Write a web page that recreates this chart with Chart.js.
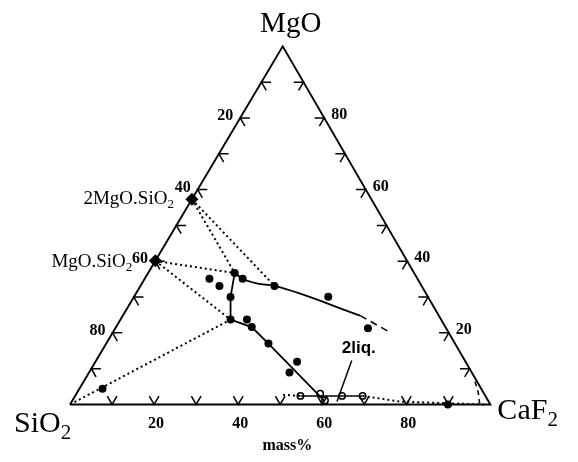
<!DOCTYPE html>
<html><head><meta charset="utf-8">
<script src="https://cdn.jsdelivr.net/npm/chart.js@4.4.0/dist/chart.umd.min.js"></script>
<style>html,body{margin:0;padding:0;background:#fff;}canvas{display:block;}</style>
</head><body>
<canvas id="c" width="578" height="462"></canvas>
<script>
// All compositions are [SiO2, MgO, CaF2] in mass%
const vertexNames = [['SiO','2'], ['MgO',''], ['CaF','2']];
const tickValues = [10, 20, 30, 40, 50, 60, 70, 80, 90];
const tickLabels = [20, 40, 60, 80];
const axisTitle = 'mass%';
const compoundNames = [['2MgO.SiO','2'], ['MgO.SiO','2']];
const compoundPoints = [[42.7, 57.3, 0], [59.9, 40.1, 0]];
const liquidPoints = [
  [49.5, 35.1, 15.4], [48.2, 33.1, 18.8], [42.7, 36.7, 20.6], [41.6, 35.1, 23.3],
  [35.0, 33.1, 31.9], [23.7, 30.1, 46.2], [18.6, 21.3, 60.1], [47.0, 30.0, 23.0],
  [50.1, 23.7, 26.2], [46.2, 23.7, 30.1], [46.1, 21.6, 32.3], [44.4, 17.0, 38.6],
  [40.1, 11.9, 48.0], [43.4, 8.9, 47.7], [90.1, 4.4, 5.5], [10.1, 0, 89.9]
];
const twoLiquidPoints = [[44.0, 2.4, 53.6], [39.0, 3.0, 58.0], [38.8, 1.1, 60.1], [34.1, 2.4, 63.5], [29.2, 2.4, 68.4]];
const upperBoundary = [[42.7, 36.7, 20.6], [41.6, 35.1, 23.3], [38.9, 33.8, 27.3], [35.0, 33.1, 31.9], [18.7, 24.8, 56.5]];
const upperBoundaryDashed = [[18.7, 24.8, 56.5], [13.8, 20.0, 66.2]];
const lowerBoundary = [[42.7, 36.7, 20.6], [47.0, 30.0, 23.0], [50.1, 23.7, 26.2], [46.1, 21.6, 32.3], [44.4, 17.0, 38.6], [39.0, 1.1, 59.9]];
const twoLiquidLine = [[44.0, 2.4, 53.6], [29.2, 2.4, 68.4]];
const twoLiquidLeader = [[26.9, 12.3, 60.8], [36.1, 0.8, 63.1]];
const twoLiquidLabel = '2liq.';
const tieLines = [
  [[42.7, 57.3, 0], [42.7, 36.7, 20.6]],
  [[42.7, 57.3, 0], [35.0, 33.1, 31.9]],
  [[59.9, 40.1, 0], [42.7, 36.7, 20.6]],
  [[59.9, 40.1, 0], [50.1, 23.7, 26.2]],
  [[100, 0, 0], [50.1, 23.7, 26.2]]
];
const baseDotted = [
  [[48.0, 2.7, 49.3], [44.0, 2.4, 53.6]],
  [[29.2, 2.4, 68.4], [21.0, 0.8, 78.2], [1.5, 0, 98.5]]
];
const caf2Dashed = [[0.5, 6.4, 93.1], [1.2, 3.4, 95.4], [2.4, 0.3, 97.3]];

const SKEW = 0.506;
function tp(p) { return { x: p[2] + SKEW * p[1], y: p[1] }; }
const line = (pts, opt) => Object.assign({ data: pts.map(tp), showLine: true, borderColor: '#000', borderWidth: 1.5, pointRadius: 0, fill: false, tension: 0 }, opt || {});

const datasets = [];
// triangle frame
datasets.push(line([[100, 0, 0], [0, 0, 100], [0, 100, 0], [100, 0, 0]], { borderWidth: 1.9 }));
// chevron ticks
const A = 2.3;
tickValues.forEach(t => {
  datasets.push(line([[t - A, 100 - t, A], [t, 100 - t, 0], [t, 100 - t - A, A]], { borderWidth: 1.5 }));   // SiO2 edge (left)
  datasets.push(line([[A, t, 100 - t - A], [0, t, 100 - t], [A, t - A, 100 - t]], { borderWidth: 1.5 }));   // MgO edge (right)
  datasets.push(line([[100 - t - A, A, t], [100 - t, 0, t], [100 - t, A, t - A]], { borderWidth: 1.5 }));   // CaF2 edge (base)
});
tieLines.forEach(l => datasets.push(line(l, { borderWidth: 2, borderDash: [2, 3] })));
baseDotted.forEach(l => datasets.push(line(l, { borderWidth: 2, borderDash: [2, 3] })));
datasets.push(line(caf2Dashed, { borderWidth: 1.5, borderDash: [5, 4] }));
datasets.push(line(upperBoundary, { borderWidth: 1.8, cubicInterpolationMode: 'monotone', tension: 0.3 }));
datasets.push(line(upperBoundaryDashed, { borderWidth: 1.6, borderDash: [7, 5] }));
datasets.push(line(lowerBoundary, { borderWidth: 1.8 }));
datasets.push(line(twoLiquidLine, { borderWidth: 1.5 }));
datasets.push(line(twoLiquidLeader, { borderWidth: 1.5 }));
datasets.push({ data: liquidPoints.map(tp), showLine: false, pointRadius: 4, pointBackgroundColor: '#000', pointBorderColor: '#000', pointBorderWidth: 0 });
datasets.push({ data: twoLiquidPoints.map(tp), showLine: false, pointRadius: 3.2, pointBackgroundColor: '#fff', pointBorderColor: '#000', pointBorderWidth: 1.5 });
datasets.push({ data: compoundPoints.map(tp), showLine: false, pointStyle: 'rectRot', pointRadius: 6.5, pointBackgroundColor: '#000', pointBorderColor: '#000', pointBorderWidth: 0 });

const SERIF = '"Liberation Serif", "Times New Roman", serif';
function chem(ctx, parts, x, y, size, align) {
  const subSize = Math.round(size * 0.7);
  ctx.font = size + 'px ' + SERIF;
  const w1 = ctx.measureText(parts[0]).width;
  ctx.font = subSize + 'px ' + SERIF;
  const w2 = parts[1] ? ctx.measureText(parts[1]).width : 0;
  const total = w1 + w2;
  let x0 = align === 'right' ? x - total : align === 'center' ? x - total / 2 : x;
  ctx.textAlign = 'left'; ctx.textBaseline = 'alphabetic';
  ctx.font = size + 'px ' + SERIF;
  ctx.fillText(parts[0], x0, y);
  if (parts[1]) { ctx.font = subSize + 'px ' + SERIF; ctx.fillText(parts[1], x0 + w1, y + size * 0.22); }
}

const labelsPlugin = {
  id: 'ternaryLabels',
  afterDatasetsDraw(chart) {
    const ctx = chart.ctx, xs = chart.scales.x, ys = chart.scales.y;
    const px = p => { const q = tp(p); return [xs.getPixelForValue(q.x), ys.getPixelForValue(q.y)]; };
    ctx.save();
    ctx.fillStyle = '#000';
    // vertex names
    let v = px([0, 100, 0]); chem(ctx, vertexNames[1], v[0] + 8, v[1] - 14, 29, 'center');
    v = px([100, 0, 0]); chem(ctx, vertexNames[0], v[0] - 56, v[1] + 28, 30, 'left');
    v = px([0, 0, 100]); chem(ctx, vertexNames[2], v[0] + 7, v[1] + 15, 30, 'left');
    // tick labels
    ctx.font = 'bold 16px ' + SERIF; ctx.textAlign = 'center'; ctx.textBaseline = 'middle';
    tickLabels.forEach(t => {
      let p = px([t, 100 - t, 0]); ctx.fillText(String(t), p[0] - 15, p[1] - 2);
      p = px([0, t, 100 - t]); ctx.fillText(String(t), p[0] + 15, p[1] - 3);
      p = px([100 - t, 0, t]); ctx.fillText(String(t), p[0] + 2, p[1] + 19);
    });
    // axis title
    ctx.font = 'bold 16px ' + SERIF; ctx.textAlign = 'right'; ctx.textBaseline = 'alphabetic';
    let b = px([40, 0, 60]); ctx.fillText(axisTitle, b[0] - 10, b[1] + 46);
    // compound names
    let c = px(compoundPoints[0]); chem(ctx, compoundNames[0], c[0] - 18, c[1] + 5, 19, 'right');
    c = px(compoundPoints[1]); chem(ctx, compoundNames[1], c[0] - 23, c[1] + 6, 19, 'right');
    // 2liq. label
    const l = px(twoLiquidLeader[0]);
    ctx.font = 'bold 17px "Liberation Sans", Arial, sans-serif'; ctx.textAlign = 'center'; ctx.textBaseline = 'alphabetic';
    ctx.fillText(twoLiquidLabel, l[0] + 7, l[1] - 7);
    ctx.restore();
  }
};

new Chart(document.getElementById('c'), {
  type: 'scatter',
  data: { datasets },
  options: {
    responsive: false, animation: false, devicePixelRatio: 1,
    layout: { padding: 0 },
    plugins: { legend: { display: false }, tooltip: { enabled: false } },
    scales: {
      x: { type: 'linear', display: false, min: -65 / 4.3, max: (578 - 65) / 4.3 },
      y: { type: 'linear', display: false, min: -(462 - 409.5) / 3.685, max: 100 + 41 / 3.685 }
    }
  },
  plugins: [labelsPlugin]
});
</script>
</body></html>
